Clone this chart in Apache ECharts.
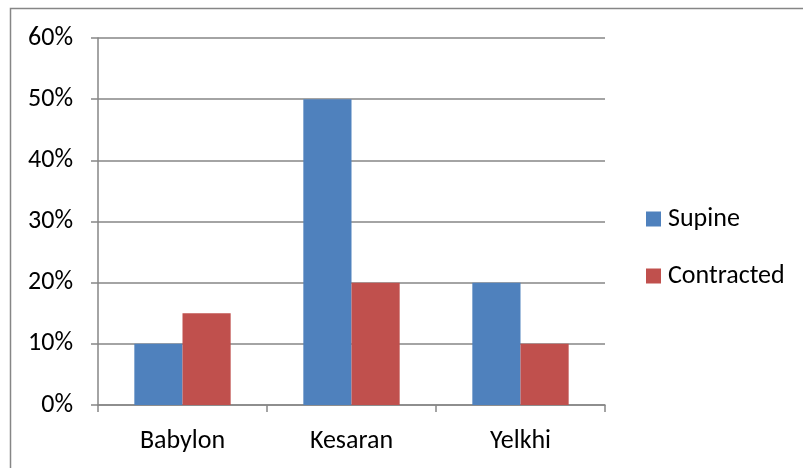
<!DOCTYPE html>
<html><head><meta charset="utf-8">
<script src="https://cdn.jsdelivr.net/npm/echarts@6/dist/echarts.min.js"></script>
<style>html,body{margin:0;padding:0;background:#fff}#c{width:803px;height:468px}</style>
</head><body><div id="c"></div>
<script>
const categories = ['Babylon', 'Kesaran', 'Yelkhi'];
const supine = [10, 50, 20];
const contracted = [15, 20, 10];
const yTicks = [0, 10, 20, 30, 40, 50, 60];

const chart = echarts.init(document.getElementById('c'));
const font = 'Calibri, Carlito, "Open Sans", "Liberation Sans", sans-serif';
chart.setOption({
  animation: false,
  graphic: [{
    type: 'rect', shape: {x: 10.5, y: 8.5, width: 820, height: 500},
    style: {fill: 'none', stroke: '#868686', lineWidth: 1.5}
  }],
  grid: {left: 98, right: 198, top: 38, bottom: 63},
  legend: {
    orient: 'vertical', left: 641, top: 201, itemGap: 31,
    itemWidth: 15, itemHeight: 15, icon: 'rect',
    textStyle: {fontSize: 26, lineHeight: 26, color: '#000', fontFamily: font, padding: [0, 0, 0, 2]},
    data: ['Supine', 'Contracted']
  },
  xAxis: {
    type: 'category', data: categories,
    axisLine: {lineStyle: {color: '#868686', width: 1.5}},
    axisTick: {show: true, length: 7, lineStyle: {color: '#868686', width: 1.5}},
    axisLabel: {fontSize: 26, color: '#000', fontFamily: font, margin: 23}
  },
  yAxis: {
    type: 'value', min: yTicks[0], max: yTicks[yTicks.length - 1], interval: 10,
    axisLine: {show: true, lineStyle: {color: '#868686', width: 1.5}},
    axisTick: {show: true, length: 7, lineStyle: {color: '#868686', width: 1.5}},
    splitLine: {lineStyle: {color: '#868686', width: 1.5}},
    axisLabel: {fontSize: 26, color: '#000', fontFamily: font, margin: 25, formatter: '{value}%'}
  },
  series: [
    {name: 'Supine', type: 'bar', data: supine, barGap: '0%', barCategoryGap: '43%',
     itemStyle: {color: '#4F81BD'}},
    {name: 'Contracted', type: 'bar', data: contracted, barGap: '0%', barCategoryGap: '43%',
     itemStyle: {color: '#C0504D'}}
  ]
});
</script></body></html>
